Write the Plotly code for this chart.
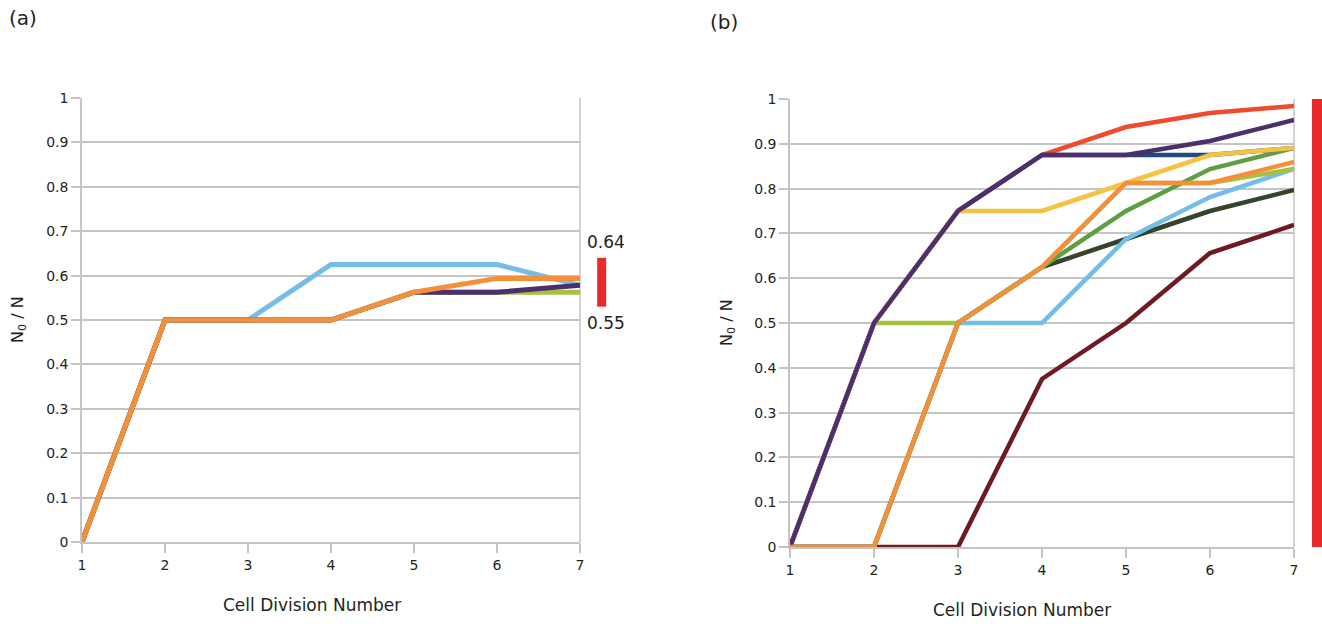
import plotly.graph_objects as go

# ---------------- data ----------------
divisions = [1, 2, 3, 4, 5, 6, 7]

# panel (a)
a_blue   = [0, 0.5, 0.5, 0.625, 0.625, 0.625, 0.578125]
a_green  = [0, 0.5, 0.5, 0.5, 0.5625, 0.5625, 0.5625]
a_purple = [0, 0.5, 0.5, 0.5, 0.5625, 0.5625, 0.578125]
a_orange = [0, 0.5, 0.5, 0.5, 0.5625, 0.59375, 0.59375]
a_range_bar = [0.53, 0.64]
a_range_labels = ["0.64", "0.55"]

# panel (b)
b_darkred  = [0, 0, 0, 0.375, 0.5, 0.65625, 0.71875]
b_darkolive = [0, 0, 0.5, 0.625, 0.6875, 0.75, 0.796875]
b_lightblue = [0, 0, 0.5, 0.5, 0.6875, 0.78125, 0.84375]
b_lightgreen = [0, 0.5, 0.5, 0.625, 0.8125, 0.8125, 0.84375]
b_green    = [0, 0, 0.5, 0.625, 0.75, 0.84375, 0.890625]
b_red      = [0, 0.5, 0.75, 0.875, 0.9375, 0.96875, 0.984375]
b_navy     = [0, 0.5, 0.75, 0.875, 0.875, 0.875, 0.890625]
b_yellow   = [0, 0.5, 0.75, 0.75, 0.8125, 0.875, 0.890625]
b_purple   = [0, 0.5, 0.75, 0.875, 0.875, 0.90625, 0.953125]
b_orange   = [0, 0, 0.5, 0.625, 0.8125, 0.8125, 0.859375]
b_range_bar = [0, 1.0]

y_ticks = [0, 0.1, 0.2, 0.3, 0.4, 0.5, 0.6, 0.7, 0.8, 0.9, 1]
y_ticklabels = ["0", "0.1", "0.2", "0.3", "0.4", "0.5", "0.6", "0.7", "0.8", "0.9", "1"]
x_title = "Cell Division Number"
y_title = "N<sub>0</sub> / N"

# ---------------- figure ----------------
FONT = "DejaVu Sans"
GRID = "#c4c4c4"
TXT = "#231f20"
BAR_RED = "#e8292a"

fig = go.Figure()

a_series = [
    (a_blue, "#74bde8"),
    (a_green, "#a4c23e"),
    (a_purple, "#4d2f6f"),
    (a_orange, "#f5903a"),
]
for ys, col in a_series:
    fig.add_trace(go.Scatter(x=divisions, y=ys, mode="lines",
                             line=dict(color=col, width=5),
                             xaxis="x", yaxis="y", showlegend=False,
                             hoverinfo="skip"))

b_series = [
    (b_darkred, "#6e1a22"),
    (b_darkolive, "#34432a"),
    (b_lightblue, "#74bde8"),
    (b_lightgreen, "#a4c23e"),
    (b_green, "#5e9e44"),
    (b_red, "#ef4b2f"),
    (b_navy, "#234a7d"),
    (b_yellow, "#f5c342"),
    (b_purple, "#4d2f6f"),
    (b_orange, "#f5903a"),
]
for ys, col in b_series:
    fig.add_trace(go.Scatter(x=divisions, y=ys, mode="lines",
                             line=dict(color=col, width=4.5),
                             xaxis="x2", yaxis="y2", showlegend=False,
                             hoverinfo="skip"))

W, H = 1322, 624
ax_common = dict(
    range=[1, 7], dtick=1, tick0=1, showgrid=False, zeroline=False,
    showline=True, linecolor=GRID, linewidth=1.5, mirror=False,
    ticks="outside", ticklen=9, tickcolor=GRID, tickwidth=1.5,
    tickfont=dict(family=FONT, size=14, color=TXT), fixedrange=True,
)
ay_common = dict(
    range=[0, 1], tickvals=y_ticks, ticktext=y_ticklabels,
    showgrid=True, gridcolor=GRID, gridwidth=1.5, zeroline=False,
    showline=True, linecolor=GRID, linewidth=1.5,
    ticks="outside", ticklen=9, tickcolor=GRID, tickwidth=1.5,
    tickfont=dict(family=FONT, size=14, color=TXT), fixedrange=True,
)

fig.update_layout(
    width=W, height=H,
    margin=dict(l=0, r=0, t=0, b=0, autoexpand=False),
    paper_bgcolor="white", plot_bgcolor="white",
    xaxis=dict(domain=[82 / W, 580 / W], anchor="y", **ax_common),
    yaxis=dict(domain=[1 - 542 / H, 1 - 98 / H], anchor="x", **ay_common),
    xaxis2=dict(domain=[790 / W, 1294 / W], anchor="y2", **ax_common),
    yaxis2=dict(domain=[1 - 547 / H, 1 - 99 / H], anchor="x2", **ay_common),
)

# right border lines of each plot area
for xr, yr in (("x domain", "y domain"), ("x2 domain", "y2 domain")):
    fig.add_shape(type="line", xref=xr, yref=yr, x0=1, x1=1, y0=0, y1=1,
                  line=dict(color=GRID, width=1.5), layer="below")

# range bars
fig.add_shape(type="rect", xref="x domain", yref="y",
              x0=1.0345, x1=1.0526, y0=a_range_bar[0], y1=a_range_bar[1],
              fillcolor=BAR_RED, line=dict(width=0))
fig.add_shape(type="rect", xref="x2 domain", yref="y2",
              x0=1.0357, x1=1.056, y0=b_range_bar[0], y1=b_range_bar[1],
              fillcolor=BAR_RED, line=dict(width=0))

fig.add_annotation(xref="x domain", yref="y", x=1.0522, y=a_range_bar[1],
                   text=a_range_labels[0], showarrow=False,
                   xanchor="center", yanchor="bottom", yshift=4,
                   font=dict(family=FONT, size=17, color=TXT))
fig.add_annotation(xref="x domain", yref="y", x=1.0522, y=a_range_bar[0],
                   text=a_range_labels[1], showarrow=False,
                   xanchor="center", yanchor="top", yshift=-4,
                   font=dict(family=FONT, size=17, color=TXT))

# axis titles
def paper_note(x, y, text, size, angle=0, xanchor="center"):
    fig.add_annotation(xref="paper", yref="paper", x=x / W, y=1 - y / H,
                       text=text, showarrow=False, textangle=angle,
                       xanchor=xanchor, yanchor="middle",
                       font=dict(family=FONT, size=size, color=TXT))

paper_note(312, 605, x_title, 17)
paper_note(1022, 610, x_title, 17)
paper_note(18, 320, y_title, 16, angle=-90)
paper_note(727, 323, y_title, 16, angle=-90)
paper_note(7, 18, "(a)", 20, xanchor="left")
paper_note(708, 22, "(b)", 20, xanchor="left")

fig.write_html("out.html",
               config={"displayModeBar": False},
               post_script="document.body.style.margin='0';"
                           "document.body.style.overflow='hidden';")
